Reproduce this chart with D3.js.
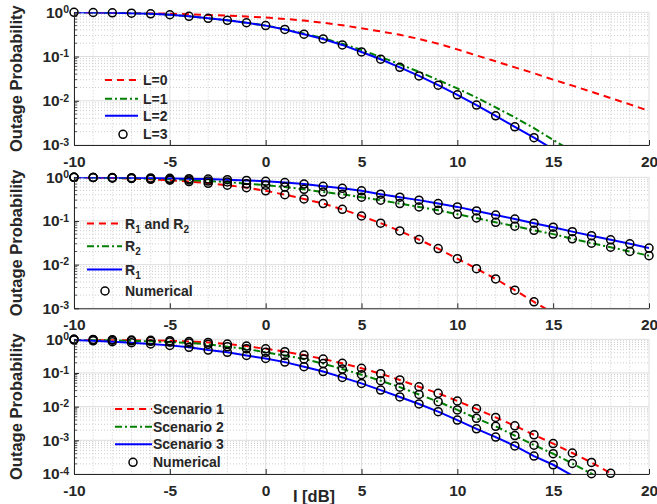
<!DOCTYPE html>
<html>
<head>
<meta charset="utf-8">
<script src="https://cdn.jsdelivr.net/npm/d3@7"></script>
<style>
  body { margin: 0; background: #fff; }
  svg text { font-family: "Liberation Sans", Arial, sans-serif; font-weight: bold; fill: #262626; }
</style>
</head>
<body>
<div class="canvas"></div>
<script>
// x values (dB) and ticks
const snr = [-10,-9,-8,-7,-6,-5,-4,-3,-2,-1,0,1,2,3,4,5,6,7,8,9,10,11,12,13,14,15,16,17,18,19,20];
const xTicks = [-10,-5,0,5,10,15,20];

// panel 1
const p1L0 = [1.0,0.99,0.98,0.965,0.95,0.93,0.9,0.87,0.84,0.8,0.76,0.71,0.65,0.58,0.51,0.435,0.37,0.31,0.25,0.195,0.145,0.106,0.078,0.057,0.042,0.03,0.022,0.016,0.0115,0.0083,0.0059];
const p1L1 = [1.0,0.99,0.975,0.955,0.925,0.88,0.81,0.73,0.66,0.58,0.5,0.415,0.33,0.26,0.195,0.14,0.098,0.067,0.045,0.0295,0.019,0.0118,0.0071,0.0042,0.0024,0.0013,0.00072,null,null,null,null];
const p1L2 = [1.0,0.99,0.975,0.955,0.925,0.88,0.81,0.73,0.66,0.58,0.5,0.41,0.32,0.25,0.183,0.127,0.087,0.057,0.0365,0.0225,0.0136,0.008,0.00456,0.00258,0.00146,0.0008,null,null,null,null,null];
const p1L3 = [1.0,0.99,0.975,0.955,0.925,0.88,0.81,0.73,0.66,0.58,0.5,0.41,0.32,0.25,0.183,0.127,0.087,0.057,0.0365,0.0225,0.0136,0.008,0.00456,0.00258,0.00146,null,null,null,null,null,null];
const p1Names = ['L=0','L=1','L=2','L=3'];
const p1YTicks = [1,0.1,0.01,0.001];

// panel 2
const p2R12 = [1,0.99,0.97,0.94,0.9,0.86,0.8,0.73,0.66,0.58,0.49,0.4,0.32,0.25,0.185,0.13,0.089,0.059,0.0374,0.0233,0.0137,0.0081,0.0047,0.0026,0.00141,0.00077,null,null,null,null,null];
const p2R2 = [1,0.99,0.97,0.95,0.93,0.9,0.87,0.82,0.78,0.71,0.66,0.6,0.53,0.46,0.41,0.35,0.3,0.25,0.21,0.176,0.142,0.117,0.093,0.076,0.061,0.05,0.039,0.031,0.025,0.02,0.016];
const p2R1 = [1,0.995,0.99,0.98,0.97,0.95,0.93,0.91,0.88,0.85,0.81,0.76,0.7,0.62,0.56,0.49,0.41,0.35,0.3,0.25,0.21,0.17,0.137,0.111,0.089,0.072,0.057,0.046,0.037,0.03,0.024];
const p2Names = [[['R',0],['1',1],[' and R',0],['2',1]], [['R',0],['2',1]], [['R',0],['1',1]], [['Numerical',0]]];
const p2YTicks = [1,0.1,0.01,0.001];

// panel 3
const p3S1 = [1,0.99,0.97,0.95,0.93,0.91,0.86,0.81,0.725,0.63,0.52,0.43,0.34,0.26,0.194,0.138,0.095,0.062,0.039,0.025,0.0147,0.0086,0.0048,0.0027,0.00146,0.0008,0.00042,0.00022,0.000105,0.00005,null];
const p3S2 = [1,0.97,0.94,0.9,0.87,0.83,0.78,0.71,0.6,0.52,0.41,0.33,0.26,0.19,0.131,0.089,0.059,0.038,0.023,0.0141,0.008,0.0045,0.0026,0.00138,0.00072,0.0004,0.000205,0.000102,0.00005,null,null];
const p3S3 = [0.95,0.9,0.85,0.79,0.73,0.66,0.58,0.48,0.41,0.33,0.27,0.21,0.154,0.11,0.074,0.049,0.031,0.0194,0.012,0.0071,0.004,0.0022,0.00125,0.00068,0.00034,0.000188,0.00009,null,null,null,null];
const p3Names = ['Scenario 1','Scenario 2','Scenario 3','Numerical'];
const p3YTicks = [1,0.1,0.01,0.001,0.0001];

const W = 657, H = 504;
const left = 74, right = 649;
const styles = {
  red:   {stroke:'#ff0000', dash:'7,5'},
  green: {stroke:'#008000', dash:'7,3,2,3'},
  blue:  {stroke:'#0000ff', dash:null}
};

const svg = d3.select('.canvas').append('svg')
  .attr('width', W).attr('height', H);

const x = d3.scaleLinear().domain([-10,20]).range([left,right]);

const panels = [
  {top:12.3, bottom:145, yTicks:p1YTicks,
   series:[{v:p1L0,s:'red'},{v:p1L1,s:'green'},{v:p1L2,s:'blue'}],
   markers:[p1L3],
   legend:{x0:105, x1:138, tx:143, rows:[80,98.7,115.7,134.3], names:p1Names, cx:123}},
  {top:177.3, bottom:308.3, yTicks:p2YTicks,
   series:[{v:p2R12,s:'red'},{v:p2R2,s:'green'},{v:p2R1,s:'blue'}],
   markers:[p2R12,p2R2,p2R1],
   legend:{x0:87, x1:122, tx:125, rows:[223.5,246.2,269.5,291], names:p2Names, cx:105}},
  {top:339.3, bottom:474, yTicks:p3YTicks,
   series:[{v:p3S1,s:'red'},{v:p3S2,s:'green'},{v:p3S3,s:'blue'}],
   markers:[p3S1,p3S2,p3S3],
   legend:{x0:115, x1:152, tx:153, rows:[409,426.7,444.3,462.3], names:p3Names, cx:133}}
];

panels.forEach((p,pi)=>{
  const ymin = d3.min(p.yTicks);
  const y = d3.scaleLog().domain([ymin,1]).range([p.bottom,p.top]);
  const g = svg.append('g');

  // grid: minor dotted, major solid
  const minorY = [];
  p.yTicks.forEach(t=>{ if(t<1) for(let k=2;k<=9;k++) minorY.push(t*k); });
  const minorX = snr.filter(d=>!xTicks.includes(d));

  g.selectAll('.mgx').data(minorX).enter().append('line')
    .attr('x1',d=>x(d)).attr('x2',d=>x(d)).attr('y1',p.top).attr('y2',p.bottom)
    .attr('stroke','#cfcfcf').attr('stroke-width',1).attr('stroke-dasharray','1,2');
  g.selectAll('.mgy').data(minorY).enter().append('line')
    .attr('x1',left).attr('x2',right).attr('y1',d=>y(d)).attr('y2',d=>y(d))
    .attr('stroke','#cfcfcf').attr('stroke-width',1).attr('stroke-dasharray','1,2');
  g.selectAll('.gx').data(xTicks).enter().append('line')
    .attr('x1',d=>x(d)).attr('x2',d=>x(d)).attr('y1',p.top).attr('y2',p.bottom)
    .attr('stroke','#dedede').attr('stroke-width',1);
  g.selectAll('.gy').data(p.yTicks).enter().append('line')
    .attr('x1',left).attr('x2',right).attr('y1',d=>y(d)).attr('y2',d=>y(d))
    .attr('stroke','#dedede').attr('stroke-width',1);

  // clip
  const cid = 'clip'+pi;
  svg.append('clipPath').attr('id',cid).append('rect')
    .attr('x',left).attr('y',p.top).attr('width',right-left).attr('height',p.bottom-p.top);

  const line = d3.line()
    .defined(d=>d[1]!=null)
    .x(d=>x(d[0])).y(d=>y(d[1]));

  p.series.forEach(s=>{
    const st = styles[s.s];
    g.append('path')
      .datum(snr.map((d,i)=>[d,s.v[i]]))
      .attr('clip-path',`url(#${cid})`)
      .attr('fill','none').attr('stroke',st.stroke).attr('stroke-width',2)
      .attr('stroke-dasharray',st.dash)
      .attr('d',line);
  });

  p.markers.forEach(m=>{
    const pts = snr.map((d,i)=>[d,m[i]]).filter(d=>d[1]!=null && d[1]>=ymin*0.97);
    g.selectAll(null).data(pts).enter().append('circle')
      .attr('cx',d=>x(d[0])).attr('cy',d=>y(d[1])).attr('r',4)
      .attr('fill','none').attr('stroke','#000').attr('stroke-width',1.5);
  });

  // axes
  const xAxis = d3.axisBottom(x).tickValues(xTicks).tickFormat(d=>String(d))
    .tickSizeInner(-5).tickSizeOuter(0).tickPadding(11);
  const gx = g.append('g').attr('transform',`translate(0,${p.bottom})`).call(xAxis);
  gx.selectAll('text').attr('font-size','15.5px').attr('fill','#262626')
    .attr('font-family','"Liberation Sans", Arial, sans-serif').attr('font-weight','bold');

  const yAxis = d3.axisLeft(y).tickValues(p.yTicks).tickSizeInner(-5).tickSizeOuter(0).tickPadding(5);
  const gy = g.append('g').attr('transform',`translate(${left},0)`).call(yAxis);
  gy.selectAll('.tick text').each(function(d){
    const t = d3.select(this).text(null)
      .attr('font-size','15.5px').attr('fill','#262626')
      .attr('font-family','"Liberation Sans", Arial, sans-serif').attr('font-weight','bold');
    t.append('tspan').text('10');
    t.append('tspan').attr('dy','-0.45em').attr('font-size','10.5px').text(String(Math.round(Math.log10(d))));
  });
  g.selectAll('.mty').data(minorY).enter().append('line')
    .attr('x1',left).attr('x2',left+3).attr('y1',d=>y(d)).attr('y2',d=>y(d))
    .attr('stroke','#262626').attr('stroke-width',0.8);
  [gx,gy].forEach(a=>{
    a.selectAll('path,line').attr('stroke','#262626');
  });

  // y label
  g.append('text')
    .attr('transform',`translate(22,${(p.top+p.bottom)/2}) rotate(-90)`)
    .attr('text-anchor','middle').attr('font-size','16.5px')
    .text('Outage Probability');

  // legend
  const L = p.legend;
  const lg = g.append('g');
  L.rows.forEach((ry,i)=>{
    if(i<3){
      const st = styles[['red','green','blue'][i]];
      lg.append('line').attr('x1',L.x0).attr('x2',L.x1).attr('y1',ry).attr('y2',ry)
        .attr('stroke',st.stroke).attr('stroke-width',2).attr('stroke-dasharray',st.dash);
    } else {
      lg.append('circle').attr('cx',L.cx).attr('cy',ry).attr('r',4)
        .attr('fill','none').attr('stroke','#000').attr('stroke-width',1.5);
    }
    const name = L.names[i];
    const t = lg.append('text').attr('x',L.tx).attr('y',ry+5).attr('font-size','14px');
    if(typeof name==='string'){
      t.text(name);
    } else {
      let sub = false;
      name.forEach(part=>{
        const ts = t.append('tspan').text(part[0]);
        if(part[1] && !sub){ ts.attr('dy',4).attr('font-size','10px'); sub = true; }
        else if(!part[1] && sub){ ts.attr('dy',-4); sub = false; }
      });
    }
  });
});

// x label
svg.append('text').attr('x',314).attr('y',501.5).attr('text-anchor','middle')
  .attr('font-size','16.5px').text('I [dB]');
</script>
</body>
</html>
